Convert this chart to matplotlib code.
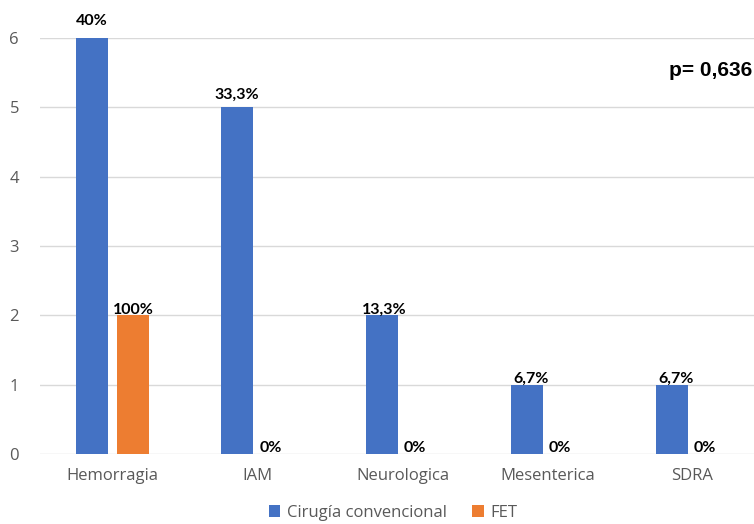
import matplotlib
matplotlib.use("Agg")
import matplotlib.pyplot as plt
import numpy as np

categories = ["Hemorragia", "IAM", "Neurologica", "Mesenterica", "SDRA"]
cirugia = [6, 5, 2, 1, 1]
fet = [2, 0, 0, 0, 0]
cirugia_labels = ["40%", "33,3%", "13,3%", "6,7%", "6,7%"]
fet_labels = ["100%", "0%", "0%", "0%", "0%"]
series_names = ["Cirugía convencional", "FET"]
yticks = [0, 1, 2, 3, 4, 5, 6]

blue = "#4472C4"
orange = "#ED7D31"
gray_text = "#595959"
grid_color = "#D9D9D9"

# label nudges (points): (dx, dy) for each bar label
cirugia_nudge = [(0, 8), (0, 5), (2, 0), (3, 0), (3, 0)]
fet_nudge = [(0, 0), (-5, 0), (-6, 0), (-6, 0), (-6, 0)]

fig = plt.figure(figsize=(7.54, 5.24), dpi=100)
ax = fig.add_axes([40 / 754, 70 / 524, 725 / 754, 416 / 524])

x = np.arange(len(categories))
w = 0.22
off = 0.143
b1 = ax.bar(x - off, cirugia, width=w, color=blue, label=series_names[0], zorder=3)
b2 = ax.bar(x + off, fet, width=w, color=orange, label=series_names[1], zorder=3)


def label_bars(bars, labels, nudges):
    for rect, lab, (dx, dy) in zip(bars, labels, nudges):
        ax.annotate(lab, (rect.get_x() + rect.get_width() / 2, rect.get_height()),
                    xytext=(dx, dy - 1), textcoords="offset points", ha="center",
                    va="bottom", fontsize=11.5, fontweight="bold", color="black",
                    family="Lato", zorder=4)


label_bars(b1, cirugia_labels, cirugia_nudge)
label_bars(b2, fet_labels, fet_nudge)

ax.set_xlim(-0.5, len(categories) - 0.5)
ax.set_ylim(0, 6)
ax.set_yticks(yticks)
ax.set_xticks(x)
ax.set_xticklabels(categories)
ax.tick_params(axis="both", length=0, labelsize=12, labelcolor=gray_text)
ax.tick_params(axis="x", pad=10)
ax.tick_params(axis="y", pad=22)
for lbl in ax.get_xticklabels() + ax.get_yticklabels():
    lbl.set_family("Open Sans")
for lbl in ax.get_yticklabels():
    lbl.set_horizontalalignment("left")

ax.grid(axis="y", color=grid_color, linewidth=1, zorder=0)
for s in ax.spines.values():
    s.set_visible(False)

fig.text(752 / 754, 1 - 70 / 524, "p= 0,636", ha="right", va="center",
         fontsize=15, fontweight="bold", family="Liberation Sans", color="black")

leg = fig.legend(handles=[b1, b2], labels=series_names, loc="center",
                 bbox_to_anchor=(393 / 754, 1 - 513 / 524), ncol=2, frameon=False,
                 handlelength=0.7, handleheight=0.7, handletextpad=0.4,
                 columnspacing=1.5, prop={"family": "Open Sans", "size": 12})
for t in leg.get_texts():
    t.set_color(gray_text)

fig.savefig("out.png", dpi=100)
